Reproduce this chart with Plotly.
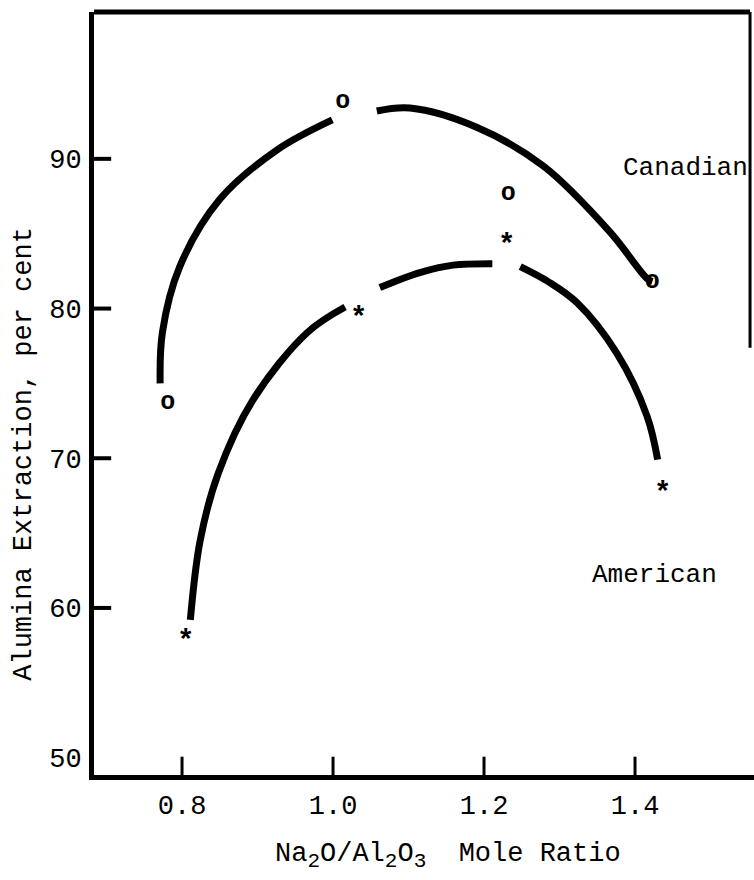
import plotly.graph_objects as go

# Na2O/Al2O3 mole ratio vs alumina extraction (%)
canadian_x = [0.781, 1.013, 1.232, 1.423]
canadian_y = [73.7, 93.8, 87.7, 81.8]
american_x = [0.804, 1.034, 1.230, 1.437]
american_y = [58.2, 79.8, 84.7, 68.1]

# hand-drawn trend curves, each in separate strokes
canadian_curve = [
    ([0.771, 0.774, 0.797, 0.850, 0.926, 0.999],
     [75.0, 78.4, 82.8, 87.3, 90.6, 92.6]),
    ([1.058, 1.102, 1.191, 1.279, 1.367, 1.416, 1.423],
     [93.2, 93.4, 92.1, 89.5, 85.1, 82.0, 81.8]),
]
american_curve = [
    ([0.811, 0.824, 0.848, 0.894, 0.966, 1.016],
     [59.2, 64.5, 69.0, 73.9, 78.4, 80.1]),
    ([1.062, 1.115, 1.159, 1.211],
     [81.4, 82.4, 82.9, 83.0]),
    ([1.248, 1.285, 1.323, 1.376, 1.416, 1.430],
     [82.8, 81.8, 80.4, 77.0, 72.8, 69.9]),
]

x_ticks = [0.8, 1.0, 1.2, 1.4]
x_tick_labels = ["0.8", "1.0", "1.2", "1.4"]
y_ticks = [50, 60, 70, 80, 90]
y_tick_labels = ["50", "60", "70", "80", "90"]
y_tick_marks = [60, 70, 80, 90]

FONT = "Liberation Mono, Courier New, monospace"
INK = "#000000"
TXT = 27

fig = go.Figure()

for xs, ys in canadian_curve + american_curve:
    fig.add_trace(go.Scatter(
        x=xs, y=ys, mode="lines",
        line=dict(color=INK, width=7, shape="spline", smoothing=1.0),
        hoverinfo="skip", showlegend=False,
    ))

# Canadian points: typed "o"
fig.add_trace(go.Scatter(
    x=canadian_x, y=canadian_y, mode="text", text=["o"] * len(canadian_x),
    textfont=dict(family=FONT, size=25, color=INK, weight="bold"), showlegend=False,
    hoverinfo="skip",
))
# American points: typed "*", nudged so the glyph sits on its value
for xv, yv in zip(american_x, american_y):
    fig.add_annotation(x=xv, y=yv, text="*", showarrow=False, yshift=-8,
                       xanchor="center", yanchor="middle",
                       font=dict(family=FONT, size=29, color=INK, weight="bold"))

fig.add_annotation(x=1.382, y=89.4, text="Canadian", showarrow=False,
                   xanchor="left", yanchor="middle",
                   font=dict(family=FONT, size=26, color=INK))
fig.add_annotation(x=1.340, y=62.2, text="American", showarrow=False,
                   xanchor="left", yanchor="middle",
                   font=dict(family=FONT, size=26, color=INK))

# axis titles
fig.add_annotation(xref="paper", yref="paper", x=0, y=0.421, xshift=-70,
                   text="Alumina Extraction, per cent", textangle=-90, showarrow=False,
                   xanchor="center", yanchor="middle",
                   font=dict(family=FONT, size=TXT, color=INK))
sub = '<sub><span style="font-size:21px">{}</span></sub>'
fig.add_annotation(xref="paper", yref="paper", x=0.537, y=-0.081,
                   text="Na" + sub.format("2") + "O/Al" + sub.format("2") + "O" + sub.format("3")
                        + "\u00a0\u00a0Mole Ratio",
                   showarrow=False, xanchor="center", yanchor="top",
                   font=dict(family=FONT, size=TXT, color=INK))

# tick marks, drawn inward from each axis
for xv in x_ticks:
    fig.add_shape(type="line", xref="x", yref="paper", x0=xv, x1=xv, y0=0, y1=0.024,
                  line=dict(color=INK, width=3))
for yv in y_tick_marks:
    fig.add_shape(type="line", xref="paper", yref="y", x0=0, x1=0.026, y0=yv, y1=yv,
                  line=dict(color=INK, width=4))

# frame: top edge and the short right edge
fig.add_shape(type="line", xref="paper", yref="paper", x0=0, x1=0.994, y0=1, y1=1,
              line=dict(color=INK, width=5))
fig.add_shape(type="line", xref="paper", yref="paper", x0=0.994, x1=0.994, y0=1, y1=0.56,
              line=dict(color=INK, width=3))

fig.update_layout(
    width=754, height=880,
    margin=dict(l=94, r=0, t=12, b=105),
    paper_bgcolor="white", plot_bgcolor="white",
    font=dict(family=FONT, size=TXT, color=INK),
    xaxis=dict(
        range=[0.6834, 1.5576], tickvals=x_ticks, ticktext=x_tick_labels,
        showgrid=False, zeroline=False, showline=True, linecolor=INK, linewidth=5,
        ticks="", ticklabelstandoff=2, tickfont=dict(family=FONT, size=TXT, color=INK),
    ),
    yaxis=dict(
        range=[48.84, 99.81], tickvals=y_ticks, ticktext=y_tick_labels,
        showgrid=False, zeroline=False, showline=True, linecolor=INK, linewidth=5,
        ticks="", ticklabelstandoff=2, tickfont=dict(family=FONT, size=TXT, color=INK),
    ),
    showlegend=False,
)

fig.write_html("out.html")
